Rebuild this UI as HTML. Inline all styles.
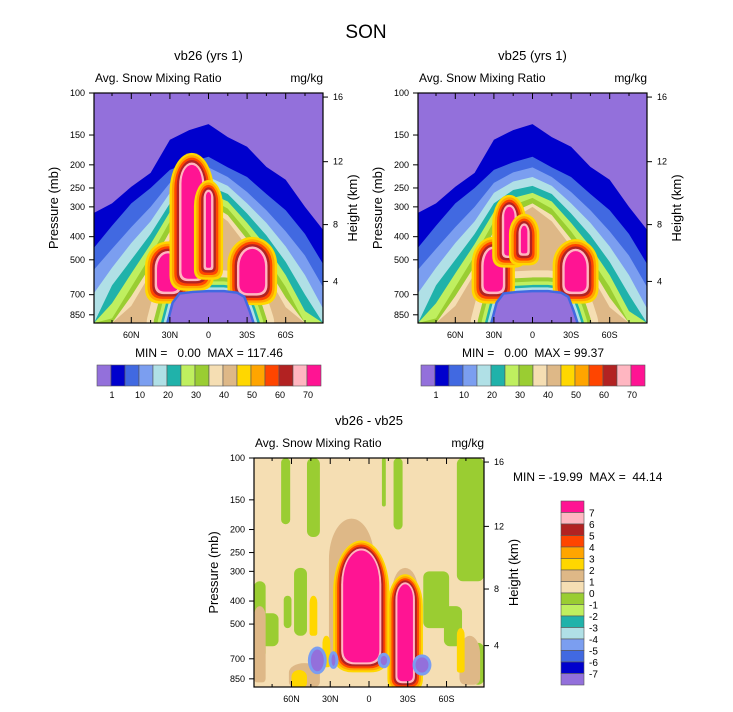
<!DOCTYPE html>
<html><head><meta charset="utf-8"><style>
html,body{margin:0;padding:0;background:#fff;}
svg{display:block;font-family:"Liberation Sans",Arial,sans-serif;}
text{white-space:pre;}
</style></head><body>
<svg id="fig" width="733" height="712" viewBox="0 0 733 712" xmlns="http://www.w3.org/2000/svg">
<text x="366" y="38" font-size="19" text-anchor="middle">SON</text>
</svg>
<script>
// ---- data ----
const lats = [89,75,60,45,30,15,0,-15,-30,-45,-60,-75,-89];
const band1 = [318,290,247,216,157,143,135,153,168,204,231,300,374];
const band2 = [445,360,290,250,210,195,185,205,225,265,310,390,520];
const band3 = [550,450,365,300,238,215,205,225,260,310,380,480,650];
const band4 = [690,540,425,345,262,235,225,245,290,350,440,580,800];
const band5 = [920,640,500,390,290,255,245,265,320,395,510,700,920];
const band6 = [920,760,570,430,315,275,262,285,350,440,580,820,920];
const band7 = [920,880,650,480,345,295,275,305,380,490,650,920,920];
const band8 = [920,920,710,530,380,315,290,325,410,530,720,920,920];
const band9 = [920,920,780,570,410,335,300,345,440,570,790,920,920];
const domeLats = [31,27,22,12,0,-12,-22,-27,-31,-34];
const domeP = [920,760,700,690,685,685,695,720,820,920];
// blobs: [latNorth, latSouth, pTop, pBottom]
const blobsL = [[40,23,470,680],[21,5,200,600],[2,-2,260,540],[-24,-44,450,690]];
const blobsR = [[38,23,450,680],[22,14,300,480],[9,4,360,470],[-25,-42,460,680]];
const pTicks = [100,150,200,250,300,400,500,700,850];
const hTickLabels = ['16','12','8','4'];
const hTickP = [104,194,356,616];
const latTickVals = [60,30,0,-30,-60];
const latTickLabels = ['60N','30N','0','30S','60S'];
const barLabels = ['1','10','20','30','40','50','60','70'];
const diffLabels = ['7','6','5','4','3','2','1','0','-1','-2','-3','-4','-5','-6','-7'];
// difference field pieces [latN, latS, pTop, pBot]
const diffOlive = [[68,61,100,190],[48,38,100,215],[-10,-13,100,160],[-19,-26,100,200],[-68,-89,100,330],[89,80,330,700],[84,70,450,620],[58,48,290,560],[66,60,380,520],[-42,-62,300,520],[-58,-72,420,620],[14,-3,700,760],[-80,-89,600,900]];
const diffTan = [[31,-4,180,720],[-18,-38,290,880],[89,80,420,880],[-70,-86,560,900],[62,38,730,920]];
const diffYellow = [[46,40,380,560],[-68,-74,520,800],[60,48,780,920],[36,30,560,760]];
const diffPink = [[20,-8,245,725],[-22,-34,340,870]];
const diffPurple = [[45,35,640,790],[-9,-14,680,745],[-36,-46,690,800],[29,26,670,750]];

const COL = ['#9370DB','#0000CD','#4169E1','#7B9EF0','#B0E0E6','#20B2AA','#BFEF5F','#9ACD32','#F5DEB3','#DEB887','#FFD700','#FFA500','#FF4500','#B22222','#FFB6C1','#FF1493'];
const NS='http://www.w3.org/2000/svg';
const svg=document.getElementById('fig');
function mk(tag,attrs,parent){const e=document.createElementNS(NS,tag);for(const k in attrs)e.setAttribute(k,attrs[k]);(parent||svg).appendChild(e);return e;}
function txt(x,y,s,size,anchor,parent){const t=mk('text',{x:x,y:y,'font-size':size,'text-anchor':anchor||'middle'},parent);t.textContent=s;return t;}

let clipId=0;
function panel(x0,y0,w,h,title,sub,name){
  const g=mk('g',{});
  
  
  const xL=lat=>x0+(89-lat)/178*w;
  const yP=p=>y0+Math.log10(p/100)*(h/Math.log10(9.2));
  const cid='c'+(clipId++);
  const cp=mk('clipPath',{id:cid},g);mk('rect',{x:x0,y:y0,width:w,height:h},cp);
  const area=mk('g',{'clip-path':'url(#'+cid+')'},g);
  
  
  const o={g,area,xL,yP,x0,y0,w,h};
  o.finish=function(){
    mk('rect',{x:x0,y:y0,width:w,height:h,fill:'none',stroke:'#000','stroke-width':1.2},g);
    pTicks.forEach(p=>{const y=yP(p);mk('line',{x1:x0-5,x2:x0,y1:y,y2:y,stroke:'#000'},g);const t=txt(x0-9,y+3,String(p),9,'end',g);});
    hTickP.forEach((p,i)=>{const y=yP(p);mk('line',{x1:x0+w,x2:x0+w+5,y1:y,y2:y,stroke:'#000'},g);const t=txt(x0+w+10,y+3,hTickLabels[i],9,'start',g);});
    for(let l=75;l>=-75;l-=15){const x=xL(l);const maj=(l%30===0);mk('line',{x1:x,x2:x,y1:y0+h,y2:y0+h-(maj?6:3),stroke:'#000'},g);mk('line',{x1:x,x2:x,y1:y0,y2:y0+(maj?6:3),stroke:'#000'},g);}
    latTickVals.forEach((l,i)=>{const t=txt(xL(l),y0+h+15,latTickLabels[i],9,'middle',g);});
    let t=txt(x0+w/2,y0-33,title,13,'middle',g);
    t=txt(x0+1,y0-11,sub,12,'start',g);
    t=txt(x0+w,y0-11,'mg/kg',12,'end',g);
    t=txt(0,0,'Pressure (mb)',13,'middle',g);t.setAttribute('transform','translate('+(x0-36)+','+(y0+h/2)+') rotate(-90)');
    t=txt(0,0,'Height (km)',13,'middle',g);t.setAttribute('transform','translate('+(x0+w+34)+','+(y0+h/2)+') rotate(-90)');
  };
  return o;
}
// rounded "blob" shape: elliptical top, straight sides, rounded bottom
function blob(o,b,grow,color,name){
  const x1=o.xL(b[0])-grow, x2=o.xL(b[1])+grow, y1=o.yP(b[2])-grow, y2=o.yP(b[3])+grow;
  const w=x2-x1, h=y2-y1;
  const rt=Math.min(h*0.4,w*0.9), rb=Math.min(w*0.35,h*0.25);
  const d='M'+x1+','+(y1+rt)+' A'+(w/2)+','+rt+' 0 0 1 '+x2+','+(y1+rt)+' L'+x2+','+(y2-rb)+' Q'+x2+','+y2+' '+(x2-rb)+','+y2+' L'+(x1+rb)+','+y2+' Q'+x1+','+y2+' '+x1+','+(y2-rb)+' Z';
  const e=mk('path',{d:d,fill:color},o.area);
  
  
}
function ellipse(o,b,grow,color,name){
  const cx=(o.xL(b[0])+o.xL(b[1]))/2, cy=(o.yP(b[2])+o.yP(b[3]))/2;
  const rx=Math.abs(o.xL(b[1])-o.xL(b[0]))/2+grow, ry=Math.abs(o.yP(b[3])-o.yP(b[2]))/2+grow;
  const e=mk('ellipse',{cx:cx,cy:cy,rx:rx,ry:ry,fill:color},o.area);
  
  
}
function mean(o,blobs){
  mk('rect',{x:o.x0,y:o.y0,width:o.w,height:o.h,fill:COL[0]},o.area);
  const bands=[band1,band2,band3,band4,band5,band6,band7,band8,band9];
  bands.forEach((arr,k)=>{
    let d='M'+o.xL(lats[0])+','+o.yP(920);
    lats.forEach((l,i)=>{d+=' L'+o.xL(l)+','+o.yP(arr[i]);});
    d+=' L'+o.xL(lats[lats.length-1])+','+o.yP(920)+' Z';
    const p=mk('path',{d:d,fill:COL[k+1]},o.area);
    
    
  });
  let d='M'+o.xL(domeLats[0])+','+o.yP(domeP[0]);
  domeLats.forEach((l,i)=>{d+=' L'+o.xL(l)+','+o.yP(domeP[i]);});
  d+=' Z';
  [[COL[8],44],[COL[7],30],[COL[6],22],[COL[5],15],[COL[4],10]].forEach(s=>{mk('path',{d:d,fill:'none',stroke:s[0],'stroke-width':s[1],'stroke-linejoin':'round'},o.area);});
  const rings=[COL[10],COL[11],COL[12],COL[13],COL[14],COL[15]];
  blobs.forEach((b,bi)=>{
    for(let r=5;r>=0;r--) blob(o,b,r*2.4,rings[5-r],'snow-maximum-'+bi);
  });
  mk('path',{d:d,fill:'none',stroke:COL[2],'stroke-width':5},o.area);
  const dm=mk('path',{d:d,fill:COL[0]},o.area);
  
  
}
function hbar(x,y,labels,name){
  const g=mk('g',{});
  
  
  const bw=14;
  COL.forEach((c,i)=>{mk('rect',{x:x+i*bw,y:y,width:bw,height:21,fill:c,stroke:'#555','stroke-width':0.6},g);});
  labels.forEach((s,i)=>{txt(x+bw*(2*i+1)+1,y+33,s,9,'middle',g);});
}
// top-left
const A=panel(94,93,229,230,'vb26 (yrs 1)','Avg. Snow Mixing Ratio','panel-vb26');
mean(A,blobsL);A.finish();
let t=txt(209,357,'MIN =   0.00  MAX = 117.46',12);
hbar(97,365,barLabels,'colorbar-vb26');
// top-right
const B=panel(418,93,229,230,'vb25 (yrs 1)','Avg. Snow Mixing Ratio','panel-vb25');
mean(B,blobsR);B.finish();
t=txt(533,357,'MIN =   0.00  MAX = 99.37',12);
hbar(421,365,barLabels,'colorbar-vb25');
// difference
const C=panel(254,458,230,229,'vb26 - vb25','Avg. Snow Mixing Ratio','panel-difference');
mk('rect',{x:C.x0,y:C.y0,width:C.w,height:C.h,fill:COL[8]},C.area);
diffOlive.forEach(b=>{const [n,s,pt,pb]=b;const x1=C.xL(n),x2=C.xL(s),y1=C.yP(pt),y2=C.yP(pb);const r=mk('rect',{x:x1,y:y1,width:x2-x1,height:y2-y1,rx:Math.min(6,(x2-x1)/2),fill:COL[7]},C.area);});
diffTan.forEach(b=>blob(C,b,0,COL[9],'positive-region'));
diffYellow.forEach(b=>{blob(C,b,0,COL[10],'positive-region');});
diffPink.forEach(b=>{const cs=[COL[10],COL[11],COL[12],COL[13],COL[14],COL[15]];for(let r=5;r>=0;r--)blob(C,b,r*2,cs[5-r],'difference-maximum');});
diffPurple.forEach(b=>{ellipse(C,b,3,COL[3],'difference-minimum');ellipse(C,b,0,COL[0],'difference-minimum');});
C.finish();
t=txt(513,481,'MIN = -19.99  MAX =  44.14',12,'start');
const vb=mk('g',{});


COL.slice().reverse().forEach((c,i)=>{mk('rect',{x:561,y:501+i*11.5,width:23,height:11.5,fill:c,stroke:'#555','stroke-width':0.6},vb);});
diffLabels.forEach((s,i)=>{txt(589,501+11.5*(i+1)+4,s,10,'start',vb);});
</script>
</body></html>
